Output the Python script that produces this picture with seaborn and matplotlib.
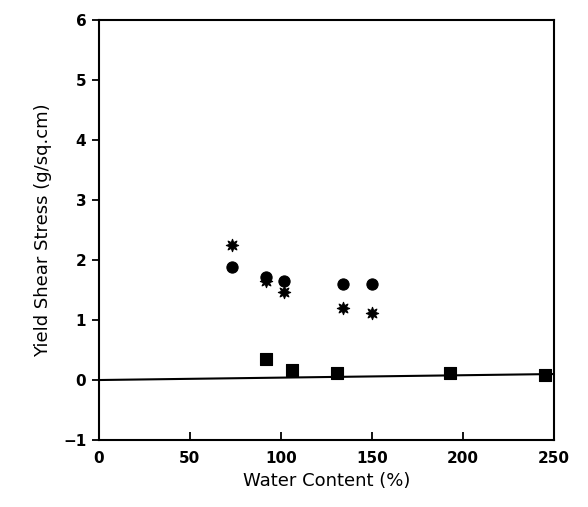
import matplotlib
matplotlib.use("Agg")
import matplotlib.pyplot as plt
import seaborn as sns
import pandas as pd

sns.set_style("white")
plt.rcParams['font.family'] = ['DejaVu Sans']
plt.rcParams['text.color'] = 'black'
plt.rcParams['axes.labelcolor'] = 'black'
plt.rcParams['xtick.color'] = 'black'
plt.rcParams['ytick.color'] = 'black'

# Datos
circle_x = [73, 92, 102, 134, 150]
circle_y = [1.88, 1.72, 1.65, 1.60, 1.60]
star_x = [73, 92, 102, 134, 150]
star_y = [2.25, 1.65, 1.47, 1.20, 1.12]
square_x = [92, 106, 131, 193, 245]
square_y = [0.35, 0.17, 0.12, 0.12, 0.08]
line_x = [0, 250]
line_y = [0.0, 0.10]

x_ticks = [0, 50, 100, 150, 200, 250]
y_ticks = [-1, 0, 1, 2, 3, 4, 5, 6]

df = pd.DataFrame({
    'x': circle_x + star_x + square_x,
    'y': circle_y + star_y + square_y,
    'serie': ['circulo'] * len(circle_x) + ['estrella'] * len(star_x) + ['cuadrado'] * len(square_x),
})

fig = plt.figure(figsize=(5.88, 5.07), dpi=100)
ax = fig.add_axes([0.168, 0.132, 0.774, 0.829])

sns.lineplot(x=line_x, y=line_y, color='black', linewidth=1.5, ax=ax)

markers = {'circulo': 'o', 'estrella': (8, 1, 0), 'cuadrado': 's'}
sizes = {'circulo': 65, 'estrella': 80, 'cuadrado': 75}
for serie, m in markers.items():
    sub = df[df['serie'] == serie]
    sns.scatterplot(data=sub, x='x', y='y', marker=m, s=sizes[serie],
                    color='black', edgecolor='black', linewidth=0.8, ax=ax, legend=False)

ax.set_xlim(0, 250)
ax.set_ylim(-1, 6)
ax.set_xticks(x_ticks)
ax.set_yticks(y_ticks)
ax.set_xticklabels([str(t) for t in x_ticks], fontweight='bold', fontsize=11)
ax.set_yticklabels(['\u22121' if t == -1 else str(t) for t in y_ticks], fontweight='bold', fontsize=11)
ax.tick_params(axis='x', bottom=True, direction='in', length=6, width=1.3, color='black', pad=8)
ax.tick_params(axis='y', left=True, direction='out', length=5, width=1.3, color='black', pad=4)

for s in ax.spines.values():
    s.set_color('black')
    s.set_linewidth(1.5)

ax.set_xlabel('Water Content (%)', fontsize=13, labelpad=4)
ax.set_ylabel('Yield Shear Stress (g/sq.cm)', fontsize=13, labelpad=8)

fig.savefig('out.png', dpi=100)
